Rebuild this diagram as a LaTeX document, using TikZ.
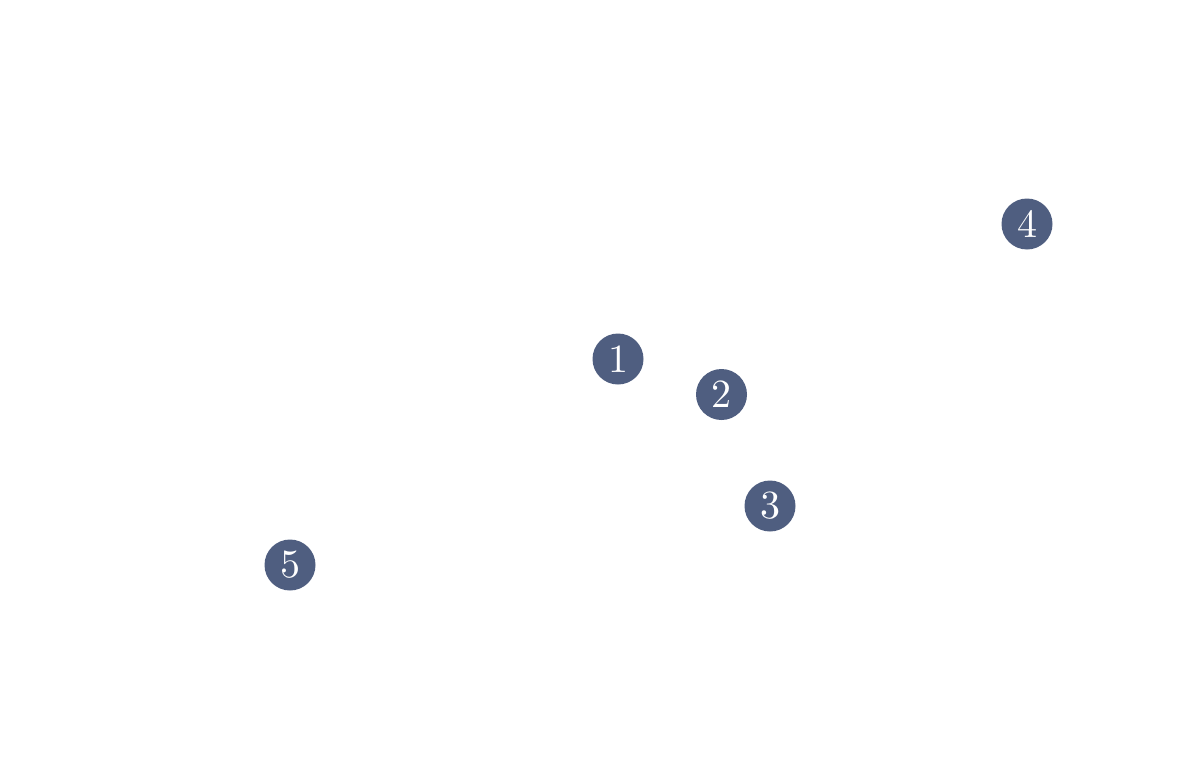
\documentclass[tikz,border=0pt]{standalone}
\newcommand{\badgetext}[1]{\scalebox{4}{\normalsize #1}}
\begin{document}
\begin{tikzpicture}[x=1pt,y=-1pt,
  badge/.style={circle,fill=badgeblue,text=white,minimum size=51pt,inner sep=0pt}]
\definecolor{badgeblue}{HTML}{4F5E80}
\useasboundingbox (0,0) rectangle (1200,768);
\node[badge] (n1) at (618,359) {\badgetext{1}};
\node[badge] (n2) at (721.5,394.5) {\badgetext{2}};
\node[badge] (n3) at (770,506) {\badgetext{3}};
\node[badge] (n4) at (1027,224) {\badgetext{4}};
\node[badge] (n5) at (290,565) {\badgetext{5}};
\end{tikzpicture}
\end{document}
